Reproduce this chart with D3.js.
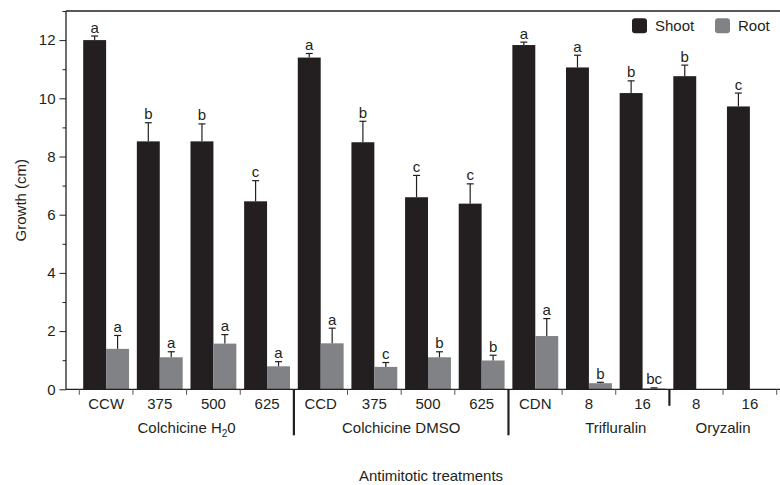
<!DOCTYPE html>
<html>
<head>
<meta charset="utf-8">
<script src="https://cdn.jsdelivr.net/npm/d3@7"></script>
<style>
  body { margin: 0; background: #fff; }
  svg text { font-family: "Liberation Sans", Arial, sans-serif; fill: #231f20; }
</style>
</head>
<body>
<div id="app"></div>
<script>
// treatment categories (x) and the group each belongs to
const categories = ["CCW", "375", "500", "625", "CCD", "375", "500", "625", "CDN", "8", "16", "8", "16"];
const groupOf = [0, 0, 0, 0, 1, 1, 1, 1, 2, 2, 2, 3, 3];
const groupLabels = ["Colchicine H", "Colchicine DMSO", "Trifluralin", "Oryzalin"];
// category index span each group label is centred on
const groupSpans = [[0, 3], [4, 7], [9, 10], [11, 12]];

const series = ["Shoot", "Root"];
const shoot = [12.0, 8.52, 8.52, 6.46, 11.40, 8.49, 6.60, 6.38, 11.83, 11.06, 10.18, 10.76, 9.72];
const shootErr = [0.14, 0.64, 0.60, 0.71, 0.14, 0.72, 0.75, 0.68, 0.10, 0.42, 0.42, 0.38, 0.46];
const shootSig = ["a", "b", "b", "c", "a", "b", "c", "c", "a", "a", "b", "b", "c"];
const root = [1.39, 1.10, 1.57, 0.79, 1.58, 0.77, 1.10, 0.99, 1.83, 0.21, 0.03, null, null];
const rootErr = [0.46, 0.19, 0.31, 0.16, 0.52, 0.15, 0.19, 0.18, 0.60, 0.03, 0.02, null, null];
const rootSig = ["a", "a", "a", "a", "a", "c", "b", "b", "a", "b", "bc", "", ""];

const yTicks = [0, 2, 4, 6, 8, 10, 12];

const W = 780, H = 485;
const pLeft = 66, pRight = 780, pTop = 11, pBottom = 389.3;
const ink = "#231f20";
const colors = { Shoot: "#231f20", Root: "#808285" };
const fs = 15;

const svg = d3.select("#app").append("svg")
  .attr("width", W).attr("height", H);

const x = d3.scaleBand()
  .domain(d3.range(categories.length))
  .range([79.3, 776.7])
  .padding(0);
const xs = d3.scaleBand()
  .domain(series)
  .range([0, x.bandwidth()])
  .paddingInner(0)
  .paddingOuter(0.17);
const y = d3.scaleLinear().domain([0, 13]).range([pBottom, pTop]);

// top frame line
svg.append("line").attr("x1", pLeft).attr("x2", pRight).attr("y1", pTop).attr("y2", pTop)
  .attr("stroke", ink).attr("stroke-width", 1.3);

// bars
const rows = [];
categories.forEach((c, i) => {
  rows.push({ i, s: "Shoot", v: shoot[i], e: shootErr[i], sig: shootSig[i] });
  if (root[i] != null) rows.push({ i, s: "Root", v: root[i], e: rootErr[i], sig: rootSig[i] });
});

svg.append("g").selectAll("rect").data(rows).join("rect")
  .attr("x", d => x(d.i) + xs(d.s))
  .attr("width", xs.bandwidth())
  .attr("y", d => y(d.v))
  .attr("height", d => y(0) - y(d.v))
  .attr("fill", d => colors[d.s]);

// error bars (upper only)
const eb = svg.append("g").attr("stroke", ink).attr("stroke-width", 1.2);
rows.forEach(d => {
  const cx = x(d.i) + xs(d.s) + xs.bandwidth() / 2;
  eb.append("line").attr("x1", cx).attr("x2", cx).attr("y1", y(d.v)).attr("y2", y(d.v + d.e));
  eb.append("line").attr("x1", cx - 3.5).attr("x2", cx + 3.5).attr("y1", y(d.v + d.e)).attr("y2", y(d.v + d.e));
});

// significance letters
svg.append("g").selectAll("text").data(rows).join("text")
  .attr("x", d => x(d.i) + xs(d.s) + xs.bandwidth() / 2)
  .attr("y", d => y(d.v + d.e) - 3.5)
  .attr("text-anchor", "middle")
  .attr("font-size", fs)
  .text(d => d.sig);

// y axis
const yMinor = d3.range(0, 14, 1).filter(v => v % 2 === 1);
const ya = svg.append("g").attr("transform", `translate(${pLeft},0)`)
  .call(d3.axisLeft(y).tickValues(yTicks).tickSize(6.5).tickPadding(4));
ya.select(".domain").attr("d", `M0,${pTop}V${pBottom}`).attr("stroke", ink).attr("stroke-width", 1.3);
ya.selectAll(".tick line").attr("stroke", ink);
ya.selectAll(".tick text").attr("font-size", fs).attr("font-family", null).attr("fill", ink);
svg.append("g").attr("transform", `translate(${pLeft},0)`)
  .call(d3.axisLeft(y).tickValues(yMinor).tickSize(3.5).tickFormat(""))
  .call(g => g.select(".domain").remove())
  .selectAll(".tick line").attr("stroke", ink);

// x axis
const xa = svg.append("g").attr("transform", `translate(0,${pBottom})`)
  .call(d3.axisBottom(x).tickSize(0).tickPadding(9).tickFormat(i => categories[i]));
xa.select(".domain").remove();
xa.selectAll(".tick text").attr("font-size", fs).attr("font-family", null).attr("fill", ink);
svg.append("line").attr("x1", pLeft).attr("x2", pRight).attr("y1", pBottom).attr("y2", pBottom)
  .attr("stroke", ink).attr("stroke-width", 1.3);

// boundary ticks and group separators
const bounds = d3.range(categories.length + 1).map(k => ({
  k, px: x(0) + k * x.step(),
  sep: k > 0 && k < categories.length && groupOf[k] !== groupOf[k - 1]
}));
const lastSep = d3.max(bounds.filter(b => b.sep), b => b.k);
svg.append("g").selectAll("line").data(bounds).join("line")
  .attr("x1", b => b.px).attr("x2", b => b.px)
  .attr("y1", pBottom)
  .attr("y2", b => b.sep ? (b.k === lastSep ? pBottom + 16.5 : pBottom + 46) : pBottom + 5.5)
  .attr("stroke", b => b.sep ? ink : "#555")
  .attr("stroke-width", b => b.sep ? 2.2 : 1);

// group labels
const gl = svg.append("g").selectAll("text").data(groupLabels).join("text")
  .attr("x", (d, g) => (x(groupSpans[g][0]) + x(groupSpans[g][1]) + x.bandwidth()) / 2)
  .attr("y", 433.3)
  .attr("text-anchor", "middle")
  .attr("font-size", fs);
gl.each(function (d, g) {
  const t = d3.select(this);
  t.append("tspan").text(d);
  if (g === 0) {
    t.append("tspan").attr("font-size", 10).attr("dy", 4).text("2");
    t.append("tspan").attr("dy", -4).text("0");
  }
});

// axis titles
svg.append("text").attr("x", 431).attr("y", 480.5).attr("text-anchor", "middle")
  .attr("font-size", fs).text("Antimitotic treatments");
svg.append("text").attr("transform", `translate(26,${(pTop + pBottom) / 2}) rotate(-90)`)
  .attr("text-anchor", "middle").attr("font-size", fs).text("Growth (cm)");

// legend
const lg = svg.append("g").selectAll("g").data(series).join("g")
  .attr("transform", (d, i) => `translate(${632 + i * 83},18.3)`);
lg.append("rect").attr("width", 15).attr("height", 15).attr("rx", 3).attr("fill", d => colors[d]);
lg.append("text").attr("x", 23).attr("y", 12.8).attr("font-size", fs).text(d => d);
</script>
</body>
</html>
